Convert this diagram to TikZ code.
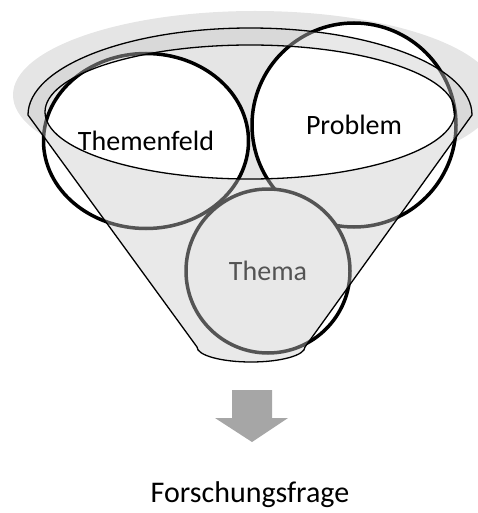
\documentclass[tikz,border=0pt]{standalone}
\usepackage{fontspec}
\setmainfont{Carlito}
\usepackage{xcolor}
\usepackage{tikz}
\usetikzlibrary{positioning, shapes.geometric, calc}

\definecolor{shadowgray}{gray}{0.9}
\definecolor{covergray}{RGB}{202,202,202}
\definecolor{arrowgray}{RGB}{166,166,166}

\begin{document}
\begin{tikzpicture}[x=1pt, y=-1pt,
        topic/.style={draw=black, fill=white, line width=3.5pt, inner sep=0pt,
            font=\fontsize{28}{34}\selectfont},
        funnelline/.style={draw=black, line width=1.3pt}]
        \useasboundingbox (0,0) rectangle (477,513);
        \fill[shadowgray] (255,95) ellipse [x radius=242, y radius=84];
        \fill[shadowgray] (250,112) ellipse [x radius=205, y radius=67];
        \node[topic, ellipse, minimum width=205pt, minimum height=175pt] (feld) at (146,141) {Themenfeld};
        \node[topic, circle, minimum size=204pt] (problem) at (354,125) {Problem};
        \node[topic, circle, minimum size=164pt] (thema) at (268,271) {Thema};
        \coordinate (rimleft) at (28,115);
        \coordinate (coneright) at (305,347);
        \fill[covergray, fill opacity=0.42, even odd rule]
            (rimleft) arc [start angle=180, end angle=360, x radius=222, y radius=87]
            -- (coneright) arc [start angle=0, end angle=180, x radius=54, y radius=15] -- cycle
            (250,112) ellipse [x radius=205, y radius=67];
        \draw[funnelline, line join=round]
            (rimleft) arc [start angle=180, end angle=360, x radius=222, y radius=87]
            -- (coneright) arc [start angle=0, end angle=180, x radius=54, y radius=15] -- cycle;
        \draw[funnelline] (250,112) ellipse [x radius=205, y radius=67];
        \coordinate (arrowtop) at (252,390);
        \fill[arrowgray] (arrowtop) ++(-20,0) -- ++(40,0) -- ++(0,28) -- ++(16,0)
            -- (252,442) -- ++(-37,-24) -- ++(17,0) -- cycle;
        \node[font=\fontsize{30}{36}\selectfont, anchor=base] (frage) at (250,502) {Forschungsfrage};
    \end{tikzpicture}
\end{document}
